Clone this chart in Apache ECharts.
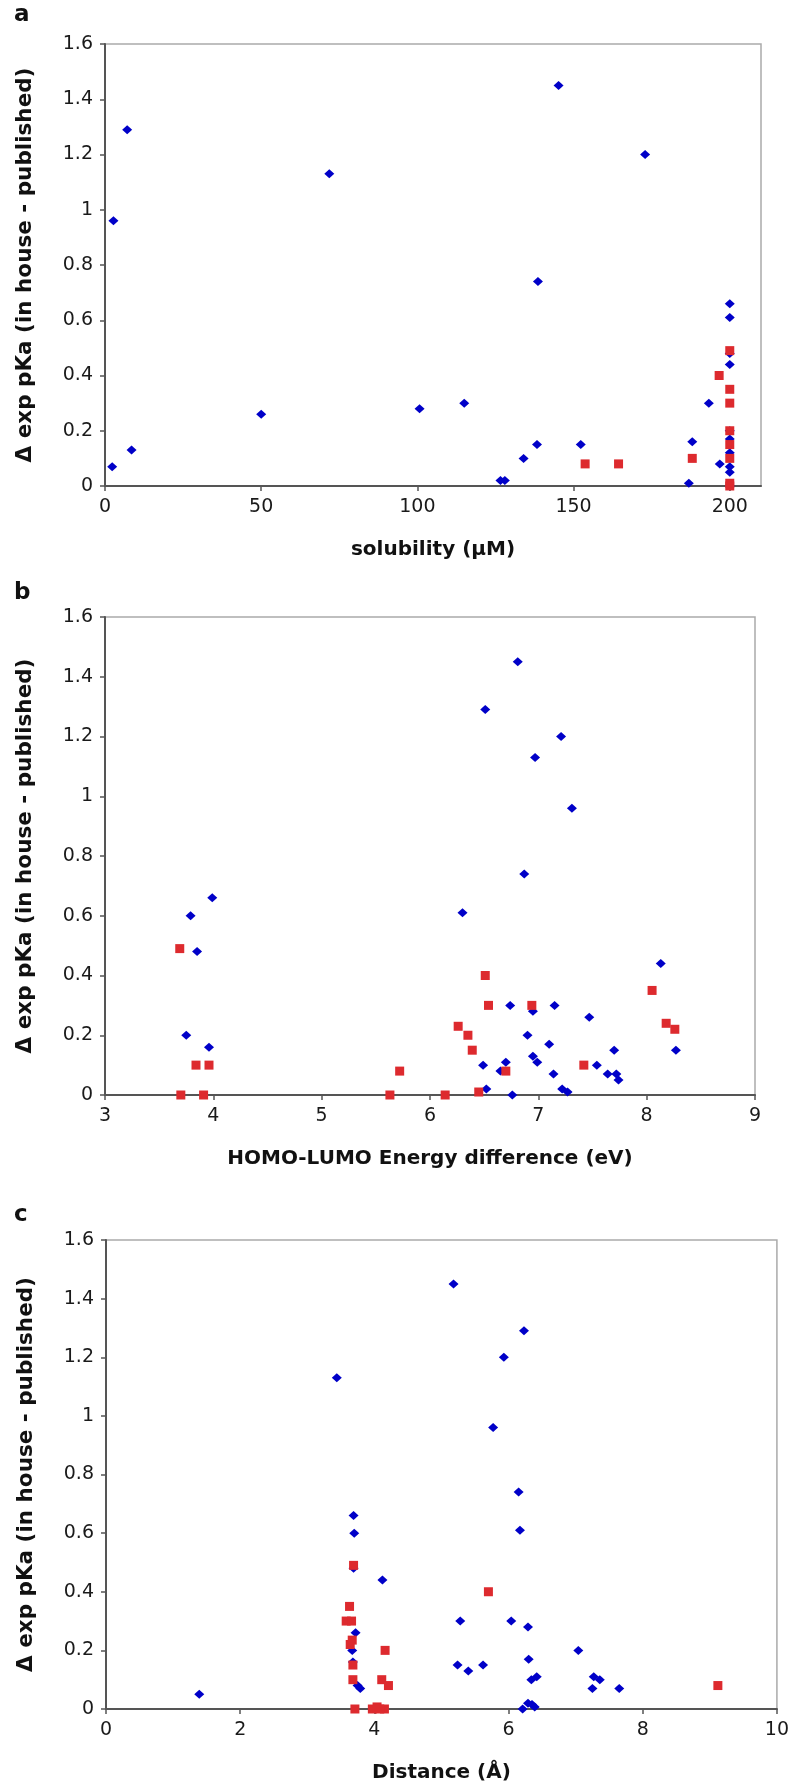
<!DOCTYPE html>
<html>
<head>
<meta charset="utf-8">
<script src="https://cdn.jsdelivr.net/npm/echarts@6/dist/echarts.min.js"></script>
<style>
  html, body { margin: 0; padding: 0; background: #fff; }
  #chart { width: 792px; height: 1788px; }
</style>
</head>
<body>
<div id="chart"></div>
<script>
// panel a: solubility (uM) vs delta pKa
const solubilityBlue = [
  [2.3, 0.07], [2.7, 0.96], [7.1, 1.29], [8.5, 0.13], [50, 0.26], [71.8, 1.13],
  [100.7, 0.28], [115, 0.30], [126.6, 0.02], [128, 0.02], [134, 0.10], [138.3, 0.15],
  [138.6, 0.74], [145.2, 1.45], [152.3, 0.15], [172.9, 1.20], [186.9, 0.01], [188, 0.16],
  [193.3, 0.30], [196.8, 0.08], [200, 0.66], [200, 0.61], [200, 0.48], [200, 0.44],
  [200, 0.20], [200, 0.17], [200, 0.12], [200, 0.07], [200, 0.05], [200, 0.0]
];
const solubilityRed = [
  [153.7, 0.08], [164.4, 0.08], [188, 0.10], [196.6, 0.40], [200, 0.49], [200, 0.35],
  [200, 0.30], [200, 0.20], [200, 0.15], [200, 0.10], [200, 0.01], [200, 0.0]
];

// panel b: HOMO-LUMO energy difference (eV)
const homoLumoBlue = [
  [3.99, 0.66], [3.79, 0.60], [3.85, 0.48], [3.75, 0.20], [3.96, 0.16],
  [6.81, 1.45], [6.51, 1.29], [7.21, 1.20], [6.97, 1.13], [7.31, 0.96], [6.87, 0.74],
  [6.30, 0.61], [8.13, 0.44], [6.74, 0.30], [6.95, 0.28], [7.15, 0.30], [7.47, 0.26],
  [6.90, 0.20], [7.10, 0.17], [7.70, 0.15], [8.27, 0.15], [6.49, 0.10], [6.70, 0.11],
  [6.95, 0.13], [6.99, 0.11], [7.54, 0.10], [6.65, 0.08], [7.14, 0.07], [7.64, 0.07],
  [7.72, 0.07], [7.74, 0.05], [6.52, 0.02], [7.22, 0.02], [7.27, 0.01], [6.76, 0.0]
];
const homoLumoRed = [
  [3.69, 0.49], [3.84, 0.10], [3.96, 0.10], [3.70, 0.0], [3.91, 0.0], [5.63, 0.0],
  [5.72, 0.08], [6.14, 0.0], [8.05, 0.35], [6.51, 0.40], [6.54, 0.30], [6.94, 0.30],
  [8.18, 0.24], [8.26, 0.22], [6.26, 0.23], [6.35, 0.20], [6.39, 0.15], [7.42, 0.10],
  [6.70, 0.08], [6.45, 0.01]
];

// panel c: distance (angstrom)
const distanceBlue = [
  [1.39, 0.05], [3.44, 1.13], [3.69, 0.66], [3.70, 0.60], [3.69, 0.48], [4.12, 0.44],
  [3.72, 0.26], [3.67, 0.20], [3.68, 0.16], [3.75, 0.08], [3.79, 0.07], [5.18, 1.45],
  [6.23, 1.29], [5.93, 1.20], [5.77, 0.96], [6.15, 0.74], [6.17, 0.61], [5.28, 0.30],
  [6.04, 0.30], [6.29, 0.28], [7.04, 0.20], [6.30, 0.17], [5.24, 0.15], [5.62, 0.15],
  [5.40, 0.13], [6.34, 0.10], [6.42, 0.11], [7.27, 0.11], [7.36, 0.10], [7.25, 0.07],
  [7.65, 0.07], [6.29, 0.02], [6.35, 0.015], [6.39, 0.007], [6.21, 0.0]
];
const distanceRed = [
  [3.69, 0.49], [3.63, 0.35], [3.58, 0.30], [3.66, 0.30], [3.67, 0.235], [3.64, 0.22],
  [4.16, 0.20], [3.68, 0.15], [3.68, 0.10], [4.11, 0.10], [4.21, 0.08], [3.71, 0.0],
  [3.97, 0.0], [4.04, 0.007], [4.15, 0.0], [4.08, 0.0], [5.70, 0.40], [9.12, 0.08]
];

const yTicks = [0, 0.2, 0.4, 0.6, 0.8, 1, 1.2, 1.4, 1.6];
const solubilityTicks = [0, 50, 100, 150, 200];

const yTitle = 'Δ exp pKa (in house - published)';
const xTitles = ['solubility (μM)', 'HOMO-LUMO Energy difference (eV)', 'Distance (Å)'];
const panelLetters = ['a', 'b', 'c'];

const BLUE = '#0000c8';
const RED = '#dd2a2e';
const FONT = 'DejaVu Sans';

const grids = [
  { left: 105, top: 44, width: 656, height: 442 },
  { left: 105, top: 617, width: 650, height: 478 },
  { left: 106, top: 1240, width: 675, height: 469 }
];

const chart = echarts.init(document.getElementById('chart'), null, { renderer: 'canvas' });

const labelStyle = { fontFamily: FONT, fontSize: 19, color: '#1a1a1a', margin: 12 };
const tickStyle = { show: true, length: 5, lineStyle: { color: '#555', width: 1.5 } };

function xAxis(i, min, max, interval, extra) {
  return Object.assign({
    type: 'value', gridIndex: i, min: min, max: max, interval: interval,
    name: xTitles[i], nameLocation: 'middle', nameGap: 54,
    nameTextStyle: { fontFamily: FONT, fontWeight: 'bold', fontSize: 20, color: '#111' },
    axisLine: { onZero: false, lineStyle: { color: '#555', width: 2 } },
    axisTick: tickStyle,
    axisLabel: labelStyle,
    splitLine: { show: false }
  }, extra || {});
}

function yAxis(i) {
  return {
    type: 'value', gridIndex: i, min: 0, max: 1.6, interval: 0.2,
    name: yTitle, nameLocation: 'middle', nameGap: 69, nameRotate: 90,
    nameTextStyle: { fontFamily: FONT, fontWeight: 'bold', fontSize: 21.5, color: '#111' },
    axisLine: { show: true, onZero: false, lineStyle: { color: '#555', width: 2 } },
    axisTick: tickStyle,
    axisLabel: Object.assign({}, labelStyle, {
      formatter: v => String(yTicks.find(t => Math.abs(t - v) < 1e-9) ?? v)
    }),
    splitLine: { show: false }
  };
}

function scatter(i, data, color, symbol, size) {
  return {
    type: 'scatter', xAxisIndex: i, yAxisIndex: i, data: data,
    symbol: symbol, symbolSize: size, itemStyle: { color: color, opacity: 1 },
    silent: true, animation: false
  };
}

const option = {
  animation: false,
  backgroundColor: '#fff',
  grid: grids.map(g => Object.assign({ show: true, borderColor: '#aaa', borderWidth: 1.5, backgroundColor: '#fff' }, g)),
  xAxis: [
    xAxis(0, 0, 210, 50, {
      axisLabel: Object.assign({}, labelStyle, { customValues: solubilityTicks }),
      axisTick: Object.assign({}, tickStyle, { customValues: solubilityTicks })
    }),
    xAxis(1, 3, 9, 1),
    xAxis(2, 0, 10, 2)
  ],
  yAxis: [yAxis(0), yAxis(1), yAxis(2)],
  series: [
    scatter(0, solubilityBlue, BLUE, 'diamond', [10, 9]),
    scatter(0, solubilityRed, RED, 'rect', [9, 9]),
    scatter(1, homoLumoBlue, BLUE, 'diamond', [10, 9]),
    scatter(1, homoLumoRed, RED, 'rect', [9, 9]),
    scatter(2, distanceBlue, BLUE, 'diamond', [10, 9]),
    scatter(2, distanceRed, RED, 'rect', [9, 9])
  ],
  graphic: panelLetters.map((t, i) => ({
    type: 'text', left: 14, top: [4, 582, 1204][i],
    style: { text: t, fontFamily: FONT, fontWeight: 'bold', fontSize: 23, fill: '#111' }
  }))
};

chart.setOption(option);
</script>
</body>
</html>
